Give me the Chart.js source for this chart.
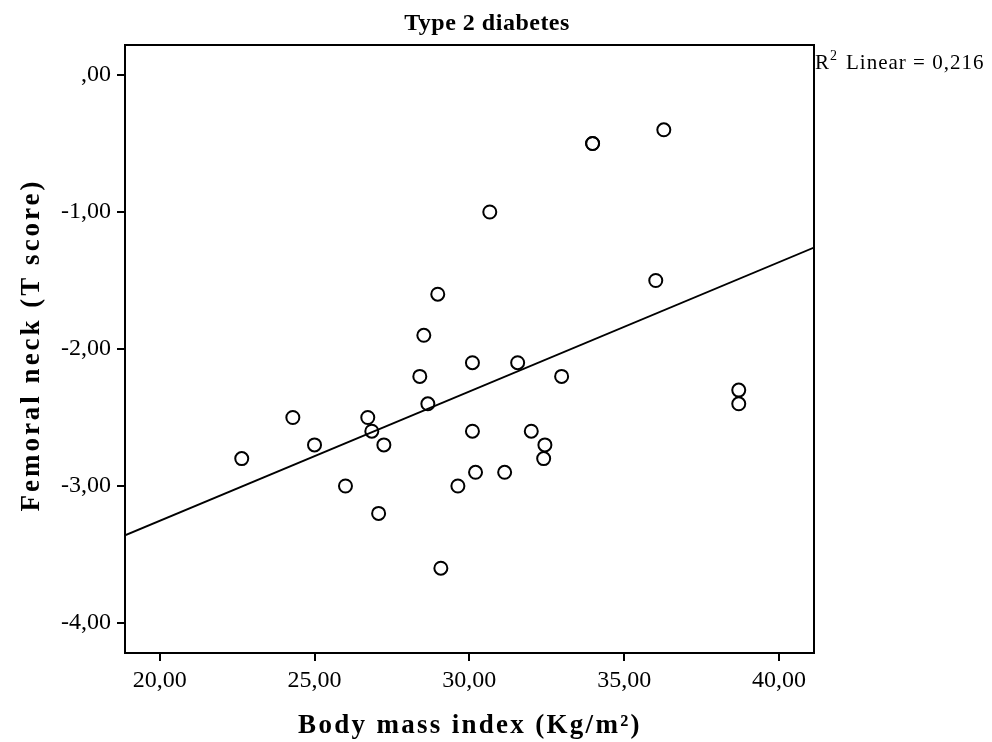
<!DOCTYPE html>
<html>
<head>
<meta charset="utf-8">
<script src="https://cdn.jsdelivr.net/npm/chart.js@4"></script>
<style>
  html, body { margin: 0; padding: 0; background: #fff; }
</style>
</head>
<body>
<canvas id="scatter" width="992" height="742"></canvas>
<script>
// Body mass index vs femoral neck T score (type 2 diabetes group)
const bmi    = [22.65, 24.3, 25.0, 26.0, 26.72, 26.85, 27.07, 27.24, 28.4, 28.53, 28.66, 28.98, 29.08, 29.63, 30.1, 30.1, 30.2, 30.66, 31.14, 31.56, 32.0, 32.44, 32.4, 32.98, 33.98, 33.98, 36.02, 36.28, 38.7, 38.7];
const tScore = [-2.8, -2.5, -2.7, -3.0, -2.5, -2.6, -3.2, -2.7, -2.2, -1.9, -2.4, -1.6, -3.6, -3.0, -2.1, -2.6, -2.9, -1.0, -2.9, -2.1, -2.6, -2.7, -2.8, -2.2, -0.5, -0.5, -1.5, -0.4, -2.3, -2.4];

// fit line as read at the plot edges
const fitX = [18.88, 41.13];
const fitY = [-3.36, -1.26];

const xTicks = [20, 25, 30, 35, 40];
const xTickLabels = ['20,00', '25,00', '30,00', '35,00', '40,00'];
const yTicks = [0, -1, -2, -3, -4];
const yTickLabels = [',00', '-1,00', '-2,00', '-3,00', '-4,00'];

const chartTitle = 'Type 2 diabetes';
const xTitle = 'Body mass index (Kg/m²)';
const yTitle = 'Femoral neck (T score)';
const r2Text = 'Linear = 0,216';

const serif = '"Liberation Serif", "Times New Roman", serif';

// box around the plot + texts SPSS style
const spssDecor = {
    id: 'spssDecor',
    afterDraw(chart) {
        const { ctx, chartArea: a } = chart;
        ctx.save();
        ctx.strokeStyle = '#000';
        ctx.lineWidth = 2;
        ctx.strokeRect(a.left, a.top, a.right - a.left, a.bottom - a.top);

        ctx.fillStyle = '#000';
        ctx.textBaseline = 'alphabetic';

        // title
        ctx.letterSpacing = '0.5px';
        ctx.font = 'bold 24px ' + serif;
        ctx.textAlign = 'center';
        ctx.fillText(chartTitle, 487, 30);

        // R2 label
        ctx.letterSpacing = '1px';
        ctx.textAlign = 'left';
        ctx.font = '21px ' + serif;
        ctx.fillText('R', a.right + 1, 69);
        let w = ctx.measureText('R').width;
        ctx.font = '14px ' + serif;
        ctx.fillText('2', a.right + 1 + w, 60);
        w += ctx.measureText('2').width;
        ctx.font = '21px ' + serif;
        ctx.fillText(r2Text, a.right + 1 + w + 8, 69);

        // axis titles
        ctx.font = 'bold 27px ' + serif;
        ctx.letterSpacing = '2.3px';
        ctx.textAlign = 'center';
        ctx.fillText(xTitle, 470, 733);

        ctx.letterSpacing = '3px';
        ctx.translate(39, 345);
        ctx.rotate(-Math.PI / 2);
        ctx.fillText(yTitle, 0, 0);
        ctx.restore();
    }
};

const tickFont = { family: serif, size: 24 };

new Chart(document.getElementById('scatter').getContext('2d'), {
    data: {
        datasets: [
            {
                type: 'scatter',
                data: bmi.map((x, i) => ({ x: x, y: tScore[i] })),
                pointStyle: 'circle',
                pointRadius: 6.5,
                pointBorderWidth: 2,
                borderColor: '#000',
                backgroundColor: 'rgba(0,0,0,0)'
            },
            {
                type: 'line',
                data: fitX.map((x, i) => ({ x: x, y: fitY[i] })),
                borderColor: '#000',
                borderWidth: 1.8,
                pointRadius: 0,
                fill: false
            }
        ]
    },
    options: {
        responsive: false,
        animation: false,
        devicePixelRatio: 1,
        layout: { padding: { left: 0, right: 178, top: 45, bottom: 0 } },
        plugins: {
            legend: { display: false },
            tooltip: { enabled: false }
        },
        scales: {
            x: {
                type: 'linear',
                min: 18.88,
                max: 41.13,
                afterBuildTicks: s => { s.ticks = xTicks.map(v => ({ value: v })); },
                afterFit: s => { s.height = 89; },
                ticks: {
                    color: '#000',
                    font: tickFont,
                    padding: 5,
                    maxRotation: 0,
                    callback: v => xTickLabels[xTicks.indexOf(v)]
                },
                grid: { drawOnChartArea: false, tickLength: 8, color: '#000', lineWidth: 2 },
                border: { color: '#000', width: 2 }
            },
            y: {
                type: 'linear',
                min: -4.219,
                max: 0.219,
                afterBuildTicks: s => { s.ticks = yTicks.map(v => ({ value: v })); },
                afterFit: s => { s.width = 125; },
                ticks: {
                    color: '#000',
                    font: tickFont,
                    padding: 6,
                    callback: v => yTickLabels[yTicks.indexOf(v)]
                },
                grid: { drawOnChartArea: false, tickLength: 8, color: '#000', lineWidth: 2 },
                border: { color: '#000', width: 2 }
            }
        }
    },
    plugins: [spssDecor]
});
</script>
</body>
</html>
